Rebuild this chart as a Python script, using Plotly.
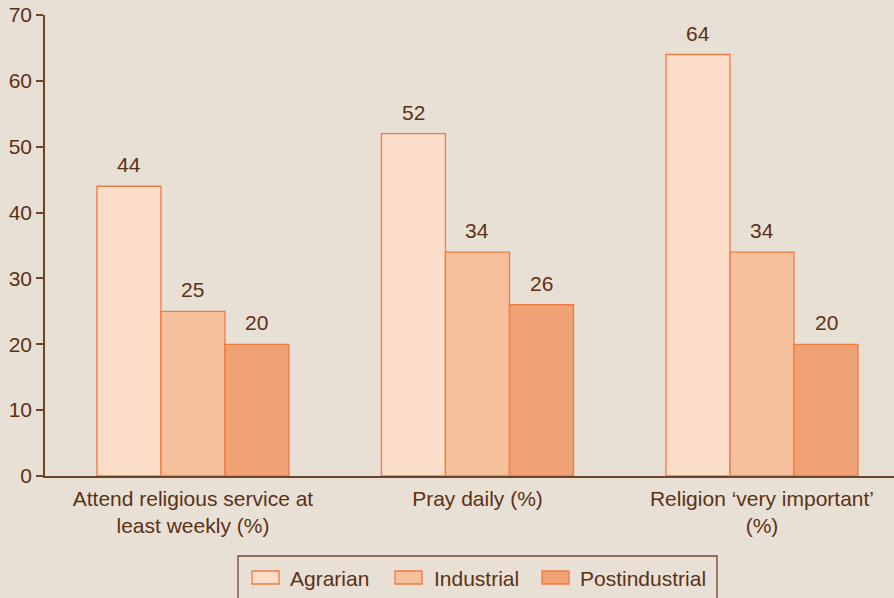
import plotly.graph_objects as go

# Survey indicators by society type
categories = [
    "Attend religious service at<br>least weekly (%)",
    "Pray daily (%)",
    "Religion \u2018very important\u2019<br>(%)",
]
agrarian = [44, 52, 64]
industrial = [25, 34, 34]
postindustrial = [20, 26, 20]
y_ticks = [0, 10, 20, 30, 40, 50, 60, 70]

series = [
    ("Agrarian", agrarian, "#FBDDC8"),
    ("Industrial", industrial, "#F6C09C"),
    ("Postindustrial", postindustrial, "#EFA274"),
]

BG = "#E9E0D5"
TEXT = "#5B3116"
AXIS = "#6E4528"
OUTLINE = "#F07A42"
FONT = "Liberation Sans, Arial, sans-serif"
FS = 21

W, H = 894, 598
M_L, M_R, M_T, M_B = 45, 0, 15, 122
BARGAP = 0.325
n_series = len(series)
bar_w = (1 - BARGAP) / n_series

fig = go.Figure()
for i, (name, vals, color) in enumerate(series):
    fig.add_trace(go.Bar(
        name=name,
        x=list(range(len(categories))),
        y=vals,
        marker=dict(color=color, line=dict(color=OUTLINE, width=1.3)),
        showlegend=False,
    ))
    # value labels above each bar
    offset = (i - (n_series - 1) / 2) * bar_w
    for j, v in enumerate(vals):
        fig.add_annotation(
            x=j + offset, y=v, xref="x", yref="y",
            text=str(v), showarrow=False,
            yanchor="bottom", yshift=8,
            font=dict(size=FS, color=TEXT, family=FONT),
        )

# Legend box drawn in pixel units converted to paper coordinates
pw = W - M_L - M_R
ph = H - M_T - M_B


def px_x(p):
    return (p - M_L) / pw


def px_y(p):
    return (H - M_B - p) / ph


fig.add_shape(
    type="rect", xref="paper", yref="paper",
    x0=px_x(238), x1=px_x(717), y0=px_y(556), y1=px_y(602),
    line=dict(color=AXIS, width=1.3), fillcolor=BG, layer="above",
)
legend_sym_x = [252, 395, 542]
legend_txt_x = [288, 432, 578]
for (name, _, color), sx, tx in zip(series, legend_sym_x, legend_txt_x):
    fig.add_shape(
        type="rect", xref="paper", yref="paper",
        x0=px_x(sx), x1=px_x(sx + 27), y0=px_y(571), y1=px_y(584),
        line=dict(color=OUTLINE, width=1.3), fillcolor=color, layer="above",
    )
    fig.add_annotation(
        x=px_x(tx), y=px_y(578), xref="paper", yref="paper",
        text=name, showarrow=False, xanchor="left", yanchor="middle",
        font=dict(size=FS, color=TEXT, family=FONT),
    )

fig.update_layout(
    width=W,
    height=H,
    barmode="group",
    bargap=BARGAP,
    bargroupgap=0,
    paper_bgcolor=BG,
    plot_bgcolor=BG,
    margin=dict(l=M_L, r=M_R, t=M_T, b=M_B),
    font=dict(family=FONT, color=TEXT, size=FS),
    showlegend=False,
)

fig.update_xaxes(
    tickmode="array",
    tickvals=list(range(len(categories))),
    ticktext=categories,
    range=[-0.52, 2.464],
    showline=True,
    linecolor=AXIS,
    linewidth=1.5,
    ticks="",
    ticklabelstandoff=3,
    showgrid=False,
    zeroline=False,
    tickfont=dict(size=FS, color=TEXT, family=FONT),
)

fig.update_yaxes(
    range=[0, 70],
    tickmode="array",
    tickvals=y_ticks,
    showline=True,
    linecolor=AXIS,
    linewidth=1.5,
    ticks="outside",
    ticklen=7,
    tickwidth=1.5,
    tickcolor=AXIS,
    showgrid=False,
    zeroline=False,
    tickfont=dict(size=FS, color=TEXT, family=FONT),
)

fig.write_html("out.html")
